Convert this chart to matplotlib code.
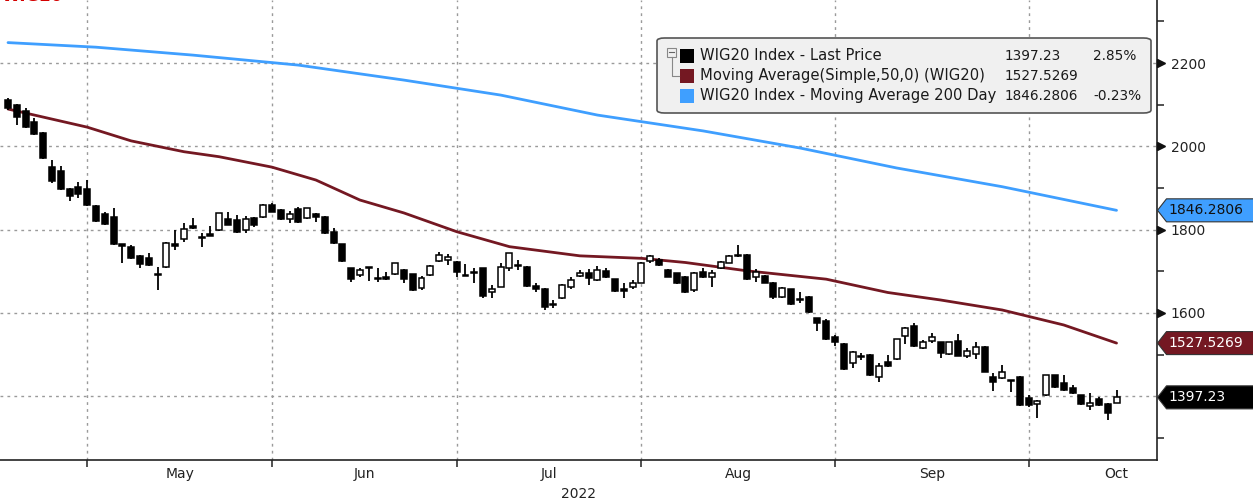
import matplotlib
matplotlib.use("Agg")
import matplotlib.pyplot as plt
import numpy as np
from matplotlib.patches import FancyBboxPatch, Polygon, Rectangle
from matplotlib.lines import Line2D
from matplotlib.transforms import IdentityTransform, blended_transform_factory

# ---------------- data ----------------
opens = [2111.2, 2099.2, 2085.5, 2059.1, 2031.9, 1951.0, 1940.7, 1897.5, 1903.0, 1897.5,
         1856.7, 1837.4, 1830.9, 1765.4, 1758.9, 1737.3, 1731.8, 1694.6, 1709.5, 1765.4,
         1777.4, 1809.4, 1782.7, 1789.4, 1799.0, 1824.7, 1823.0, 1799.0, 1827.1, 1830.9,
         1859.1, 1847.1, 1824.7, 1848.7, 1827.1, 1837.4, 1830.9, 1794.9, 1764.7, 1707.1,
         1691.0, 1709.5, 1682.6, 1686.9, 1692.7, 1703.0, 1692.7, 1660.5, 1691.0, 1724.6,
         1727.0, 1722.9, 1692.2, 1698.7, 1707.1, 1649.5, 1662.9, 1707.1, 1714.5, 1710.9,
         1665.3, 1657.4, 1621.8, 1635.0, 1662.9, 1688.6, 1696.5, 1679.0, 1700.6, 1680.7,
         1656.7, 1662.9, 1672.5, 1725.3, 1727.0, 1703.0, 1695.1, 1686.9, 1655.0, 1698.9,
         1685.5, 1707.1, 1720.5, 1740.2, 1739.0, 1686.9, 1688.6, 1671.1, 1637.5, 1656.7,
         1633.9, 1638.9, 1587.0, 1581.3, 1542.8, 1525.3, 1480.4, 1497.7, 1498.9, 1446.8,
         1482.8, 1489.3, 1544.5, 1568.5, 1515.0, 1533.2, 1529.4, 1501.3, 1533.2, 1497.2,
         1501.3, 1518.8, 1446.8, 1443.0, 1438.9, 1446.8, 1394.9, 1381.3, 1402.9, 1450.9,
         1432.4, 1418.9, 1402.9, 1377.2, 1392.5, 1381.3, 1384.4]
highs = [2116, 2101, 2092, 2068, 2034, 1967.1, 1952.7, 1899, 1915.0, 1919.1,
         1859, 1843.0, 1851.9, 1766, 1762, 1739, 1744.5, 1710.9, 1770.9, 1799.0,
         1815.1, 1827.1, 1791.1, 1808.6, 1841, 1843.0, 1835.0, 1832.6, 1831, 1861,
         1863.1, 1849, 1845.4, 1855, 1853, 1839, 1833, 1803.1, 1766, 1709,
         1707.1, 1710.5, 1707.1, 1697.5, 1721, 1705, 1694, 1689.3, 1715, 1746.9,
         1740.7, 1725, 1716.7, 1707.1, 1709, 1667.0, 1719.1, 1745, 1727.0, 1713,
         1671.1, 1659, 1630.9, 1669, 1686.9, 1703.0, 1704.7, 1712.6, 1707.1, 1682,
         1671.1, 1679.0, 1722, 1738, 1731.1, 1705, 1697, 1689, 1698, 1707.1,
         1703.0, 1725, 1738, 1763.0, 1741, 1704.7, 1690, 1673, 1661, 1658,
         1650.9, 1640, 1588, 1584.6, 1546.9, 1527, 1508, 1504.4, 1500.5, 1478.9,
         1498.9, 1538, 1565.4, 1575.0, 1534.9, 1551.0, 1531, 1531, 1549.3, 1515.0,
         1529.4, 1520, 1455.0, 1474.9, 1440, 1448, 1402.9, 1390, 1452, 1452,
         1450.9, 1426.9, 1404, 1406.9, 1397.3, 1383, 1414.9]
lows = [2087, 2051.1, 2045, 2027, 1970, 1911.9, 1896, 1869.4, 1875.9, 1857,
        1819, 1811, 1763, 1720.5, 1729, 1707.8, 1713, 1655.0, 1707, 1751.0,
        1770.9, 1802, 1757.5, 1784, 1797, 1810, 1793, 1792.5, 1806, 1829,
        1842, 1823, 1816.6, 1816, 1825, 1819.0, 1789, 1765, 1723, 1674.9,
        1685.5, 1677.3, 1673.5, 1680, 1691, 1671.1, 1653, 1655.0, 1689, 1723,
        1715.0, 1686.9, 1689, 1671.1, 1636.5, 1635.0, 1661, 1700.6, 1703.0, 1663,
        1650.9, 1607.0, 1612.5, 1633, 1656.7, 1685.5, 1667.0, 1677, 1684, 1651,
        1635.0, 1656.7, 1671, 1719.1, 1713, 1685, 1669, 1647.1, 1650.9, 1684,
        1662.9, 1705, 1719, 1733.5, 1679, 1674.9, 1671, 1632.6, 1636, 1620,
        1623.0, 1600.5, 1557.3, 1535, 1520.5, 1463, 1467.0, 1486.9, 1449, 1434.8,
        1471, 1488, 1525.3, 1519, 1513, 1527.0, 1491.0, 1500, 1496, 1491.0,
        1488.6, 1457, 1413.2, 1441, 1410.8, 1377, 1374.8, 1346.9, 1401, 1420,
        1413, 1405, 1380, 1366.9, 1377, 1342.8, 1383]
closes = [2092.0, 2070.3, 2047.1, 2028.8, 1971.9, 1917.4, 1897.5, 1880.7, 1885.5, 1859.1,
          1821.4, 1813.4, 1765.4, 1761.8, 1731.1, 1717.4, 1715.0, 1692.2, 1767.1, 1760.6,
          1801.4, 1803.1, 1780.3, 1784.6, 1839.1, 1811.0, 1794.9, 1824.7, 1811.0, 1859.1,
          1843.0, 1824.7, 1837.4, 1817.5, 1851.1, 1830.9, 1791.1, 1767.1, 1724.6, 1680.7,
          1703.0, 1707.1, 1680.2, 1681.4, 1719.1, 1681.4, 1655.0, 1684.5, 1713.3, 1739.0,
          1734.9, 1697.5, 1689.8, 1696.3, 1640.6, 1657.4, 1710.9, 1743.1, 1712.1, 1665.3,
          1657.4, 1614.9, 1619.4, 1667.0, 1679.0, 1695.1, 1683.1, 1703.0, 1685.5, 1653.3,
          1653.3, 1671.1, 1720.5, 1736.6, 1715.0, 1686.9, 1671.1, 1650.9, 1696.5, 1685.5,
          1695.1, 1722.9, 1736.6, 1737.8, 1680.7, 1698.9, 1672.5, 1638.9, 1659.1, 1621.4,
          1631.5, 1602.9, 1576.5, 1536.6, 1530.8, 1464.6, 1506.8, 1495.3, 1450.9, 1472.5,
          1472.5, 1536.6, 1563.0, 1520.5, 1530.8, 1542.8, 1503.0, 1529.4, 1497.2, 1509.2,
          1518.8, 1458.8, 1434.8, 1458.8, 1436.5, 1378.9, 1378.9, 1388.4, 1450.9, 1421.4,
          1414.9, 1406.9, 1381.3, 1384.4, 1378.9, 1358.5, 1397.23]

ma50_idx = [0, 9, 14, 20, 24, 30, 35, 40, 45, 51, 57, 65, 72, 77, 84, 93, 100, 106, 113, 120, 126]
ma50_val = [2089.5, 2046, 2013, 1987, 1975, 1950, 1919, 1871, 1840, 1795, 1759, 1737, 1731,
            1721, 1701, 1681, 1649, 1631, 1607, 1571, 1527.5269]
ma200_idx = [0, 10, 21, 33, 45, 56, 67, 79, 90, 101, 113, 126]
ma200_val = [2249, 2238, 2219, 2195, 2159, 2123, 2075, 2037, 1996, 1948, 1903, 1846.2806]

month_labels = ['May', 'Jun', 'Jul', 'Aug', 'Sep', 'Oct']
month_start_idx = [9, 30, 51, 72, 94, 116, 136]
year_label = '2022'
y_major = [1400, 1600, 1800, 2000, 2200]
y_major_labels = ['', '1600', '1800', '2000', '2200']   # 1400 is hidden behind the last-price tag

legend_names = ['WIG20 Index - Last Price', 'Moving Average(Simple,50,0) (WIG20)',
                'WIG20 Index - Moving Average 200 Day']
legend_values = ['1397.23', '1527.5269', '1846.2806']
legend_changes = ['2.85%', '', '-0.23%']

# ---------------- styling ----------------
W, H = 1253, 499
C_PRICE = '#000000'
C_MA50 = '#741822'
C_MA200 = '#3f9fff'
GRID_C = '#9a9a9a'
plt.rcParams['font.family'] = ['DejaVu Sans']

fig = plt.figure(figsize=(W / 100, H / 100), dpi=100)
ax = fig.add_axes([0, 39 / H, 1157 / W, 460 / H])
ax.set_xlim(-0.91, 130.6)
ax.set_ylim(1246.8, 2351.3)

idx = np.arange(len(closes))
o = np.array(opens); c = np.array(closes); hi = np.array(highs); lo = np.array(lows)

# moving averages
ax.plot(ma200_idx, ma200_val, color=C_MA200, lw=2.0, zorder=3, solid_capstyle='round')
ax.plot(ma50_idx, ma50_val, color=C_MA50, lw=2.0, zorder=3, solid_capstyle='round')

# candles
ax.vlines(idx, lo, hi, color='black', lw=1.3, zorder=4)
up = c >= o
bottoms = np.minimum(o, c)
heights = np.maximum(np.abs(c - o), 1.2)
ax.bar(idx[up], heights[up], bottom=bottoms[up], width=0.68, color='white',
       edgecolor='black', linewidth=1.1, zorder=5)
ax.bar(idx[~up], heights[~up], bottom=bottoms[~up], width=0.68, color='black',
       edgecolor='black', linewidth=1.1, zorder=5)

# grid
for y in y_major:
    ax.axhline(y, color=GRID_C, lw=1.0, ls=(0, (2, 3)), zorder=1)
for m in month_start_idx[:-1]:
    ax.axvline(m, color=GRID_C, lw=1.0, ls=(0, (2, 3)), zorder=1)

# spines
for s in ['top', 'left']:
    ax.spines[s].set_visible(False)
for s in ['right', 'bottom']:
    ax.spines[s].set_color('#222222')
    ax.spines[s].set_linewidth(1.2)

# y axis on the right
ax.yaxis.tick_right()
ax.set_yticks(y_major)
ax.set_yticklabels(y_major_labels)
ax.set_yticks(range(1300, 2301, 200), minor=True)
ax.tick_params(axis='y', which='major', length=0, pad=10, labelsize=10, labelcolor='#222222')
ax.tick_params(axis='y', which='minor', length=5, width=1.1, color='#222222')
bt = blended_transform_factory(ax.transAxes, ax.transData)
tri_y = [v for v, l in zip(y_major, y_major_labels) if l]
ax.plot([1.0 + 4 / 1157] * len(tri_y), tri_y, ls='none', marker='>', ms=6,
        color='#111111', transform=bt, clip_on=False, zorder=6)

# x axis
ax.set_xticks(month_start_idx[:-1])
ax.set_xticklabels([])
ax.tick_params(axis='x', which='major', length=5, width=1.1, color='#222222')
mids = [(month_start_idx[i] + month_start_idx[i + 1]) / 2 for i in range(len(month_labels))]
ax.set_xticks(mids, minor=True)
ax.set_xticklabels(month_labels, minor=True)
ax.tick_params(axis='x', which='minor', length=0, pad=5, labelsize=10, labelcolor='#222222')
ax.text(0.5, -0.058, year_label, transform=ax.transAxes, ha='center', va='top',
        fontsize=10, color='#222222')


def px(x, y_top):
    """pixel coordinates (from top-left) -> figure fraction"""
    return x / W, 1 - y_top / H


# legend box
x0, y0 = px(657, 113)
x1, y1 = px(1151, 38)
box = FancyBboxPatch((x0, y0), x1 - x0, y1 - y0, boxstyle='round,pad=0,rounding_size=0.006',
                     transform=fig.transFigure, facecolor='#f0f0f0', edgecolor='#555555',
                     lw=1.2, zorder=10)
fig.add_artist(box)
rows = [55.7, 75.7, 95.7]
colors = [C_PRICE, C_MA50, C_MA200]
for r, col, name, val, chg in zip(rows, colors, legend_names, legend_values, legend_changes):
    sx, sy = px(680, r + 7)
    fig.add_artist(Rectangle((sx, sy), 14 / W, 14 / H, transform=fig.transFigure,
                             facecolor=col, edgecolor='none', zorder=11))
    tx, ty = px(700, r)
    fig.text(tx, ty, name, ha='left', va='center', fontsize=10.6, color='#1a1a1a', zorder=12)
    fig.text(px(1005, r)[0], ty, val, ha='left', va='center', fontsize=9.8, color='#1a1a1a', zorder=12)
    if chg:
        fig.text(px(1093, r)[0], ty, chg, ha='left', va='center', fontsize=9.8, color='#1a1a1a', zorder=12)
# tree icon
bx, by = px(667, 57)
fig.add_artist(Rectangle((bx, by), 9 / W, 9 / H, transform=fig.transFigure,
                         facecolor='#f0f0f0', edgecolor='#888888', lw=0.8, zorder=11))
fig.add_artist(Line2D([px(669, 0)[0], px(674, 0)[0]], [px(0, 52.5)[1]] * 2,
                      transform=fig.transFigure, color='#666666', lw=0.8, zorder=12))
fig.add_artist(Line2D([px(671.5, 0)[0]] * 2 + [px(679, 0)[0]],
                      [px(0, 57)[1], px(0, 76)[1], px(0, 76)[1]],
                      transform=fig.transFigure, color='#888888', lw=0.8, zorder=11))

# last-value tags on the right
fig.canvas.draw()
tags = [(ma200_val[-1], C_MA200, '#111111', legend_values[2]),
        (ma50_val[-1], C_MA50, 'white', legend_values[1]),
        (closes[-1], C_PRICE, 'white', legend_values[0])]
for v, col, tc, lab in tags:
    yd = ax.transData.transform((0, v))[1]
    xs = 1157.5
    pts = [(xs, yd), (xs + 9, yd + 11.5), (W + 5, yd + 11.5), (W + 5, yd - 11.5), (xs + 9, yd - 11.5)]
    fig.add_artist(Polygon(pts, closed=True, transform=IdentityTransform(), facecolor=col,
                           edgecolor='#333333', lw=0.8, zorder=8))
    fig.text((xs + 11) / W, yd / H, lab, ha='left', va='center', fontsize=10, color=tc, zorder=9)

# clipped title at the top-left (only its lower edge shows in the reference)
fig.text(0.001, 1 + 4 / H, 'WIG20', ha='left', va='center', fontsize=12, fontweight='bold',
         color='#d40000')

fig.savefig('out.png', dpi=100)
